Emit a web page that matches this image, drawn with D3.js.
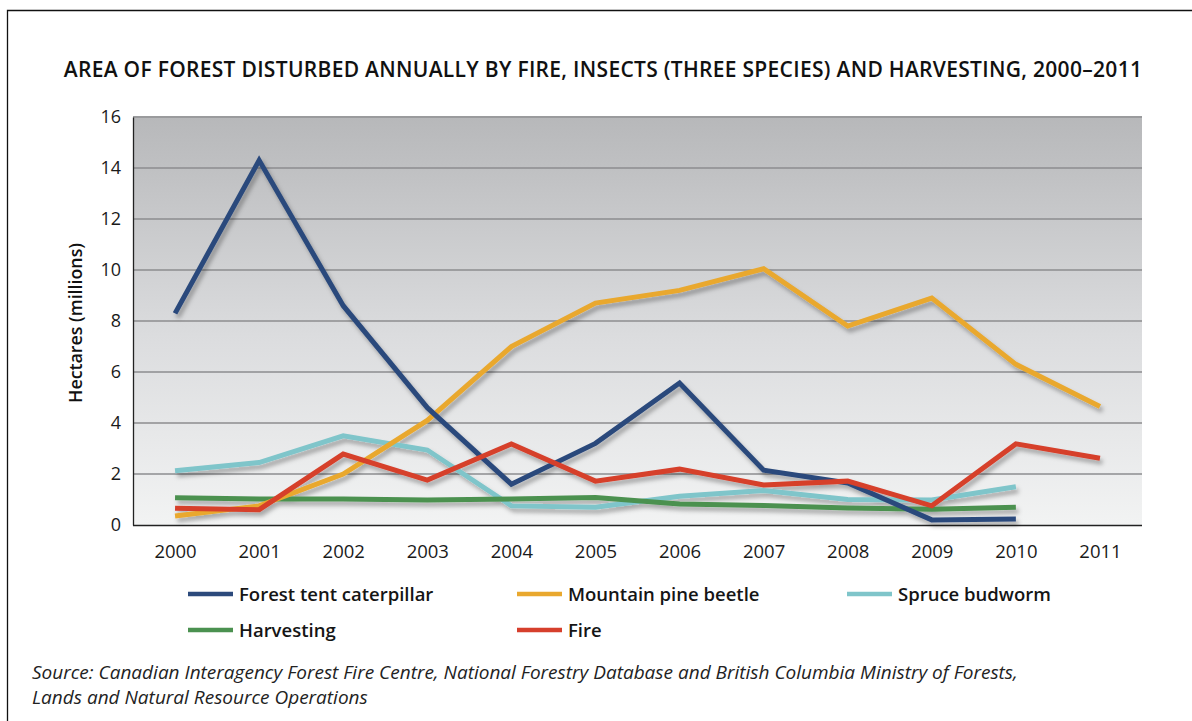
<!DOCTYPE html>
<html>
<head>
<meta charset="utf-8">
<script src="https://cdn.jsdelivr.net/npm/d3@7"></script>
<style>
  html, body { margin: 0; padding: 0; background: #fff; }
  svg { display: block; font-family: "Open Sans", "Noto Sans", sans-serif; }
</style>
</head>
<body>
<svg id="chart" width="1192" height="721"></svg>
<script>
// Years on the horizontal axis
const years = ["2000","2001","2002","2003","2004","2005","2006","2007","2008","2009","2010","2011"];
const yTicks = [0, 2, 4, 6, 8, 10, 12, 14, 16];

// Hectares disturbed (millions) per year; null where no value is reported
const forestTentCaterpillar = [8.3, 14.3, 8.6, 4.6, 1.6, 3.2, 5.57, 2.15, 1.65, 0.2, 0.24, null];
const mountainPineBeetle    = [0.35, 0.75, 2.0, 4.1, 7.0, 8.7, 9.2, 10.05, 7.8, 8.9, 6.3, 4.65];
const spruceBudworm         = [2.13, 2.45, 3.5, 2.94, 0.75, 0.7, 1.13, 1.35, 1.0, 0.98, 1.5, null];
const harvesting            = [1.07, 1.02, 1.02, 0.98, 1.02, 1.08, 0.82, 0.76, 0.67, 0.62, 0.7, null];
const fire                  = [0.66, 0.6, 2.78, 1.76, 3.18, 1.72, 2.19, 1.57, 1.72, 0.75, 3.18, 2.62];

const seriesNames  = ["Forest tent caterpillar", "Mountain pine beetle", "Spruce budworm", "Harvesting", "Fire"];
const seriesValues = [forestTentCaterpillar, mountainPineBeetle, spruceBudworm, harvesting, fire];
const seriesColors = ["#2c4a7c", "#e9a82e", "#7fc5ca", "#4b9150", "#d63f2c"];
// drawing order, back to front
const drawOrder = [2, 3, 1, 0, 4];

const svg = d3.select("#chart");
const plot = { left: 133, right: 1142, top: 117, bottom: 525 };

const x = d3.scalePoint().domain(years).range([plot.left, plot.right]).padding(0.5);
const y = d3.scaleLinear().domain([0, 16]).range([plot.bottom, plot.top]);

const defs = svg.append("defs");
const grad = defs.append("linearGradient")
  .attr("id", "plotBg").attr("x1", 0).attr("y1", 0).attr("x2", 0).attr("y2", 1);
grad.append("stop").attr("offset", "0%").attr("stop-color", "#b7b8ba");
grad.append("stop").attr("offset", "55%").attr("stop-color", "#dcdddf");
grad.append("stop").attr("offset", "100%").attr("stop-color", "#f2f3f3");

const shadow = defs.append("filter").attr("id", "lineShadow")
  .attr("x", "-10%").attr("y", "-10%").attr("width", "120%").attr("height", "130%");
shadow.append("feDropShadow")
  .attr("dx", 2.5).attr("dy", 4).attr("stdDeviation", 2.2)
  .attr("flood-color", "#000").attr("flood-opacity", 0.3);

// outer frame
svg.append("path")
  .attr("d", "M7.5,721 V10.5 H1192")
  .attr("fill", "none").attr("stroke", "#111").attr("stroke-width", 1.3);

// title
svg.append("text")
  .attr("x", 603).attr("y", 77)
  .attr("text-anchor", "middle")
  .attr("font-size", 21).attr("font-weight", 600).attr("letter-spacing", 0.3).attr("fill", "#111")
  .text("AREA OF FOREST DISTURBED ANNUALLY BY FIRE, INSECTS (THREE SPECIES) AND HARVESTING, 2000–2011");

// plot background
svg.append("rect")
  .attr("x", plot.left).attr("y", plot.top)
  .attr("width", plot.right - plot.left).attr("height", plot.bottom - plot.top)
  .attr("fill", "url(#plotBg)");

// horizontal grid lines
svg.append("g").selectAll("line")
  .data(yTicks.filter(d => d > 0 && d < 16))
  .join("line")
  .attr("x1", plot.left).attr("x2", plot.right)
  .attr("y1", d => y(d)).attr("y2", d => y(d))
  .attr("stroke", "#8c8d8f").attr("stroke-width", 1.5);

// top edge of plot
svg.append("line")
  .attr("x1", plot.left).attr("x2", plot.right)
  .attr("y1", y(16)).attr("y2", y(16))
  .attr("stroke", "#9a9b9d").attr("stroke-width", 2);

// y axis
const yAxis = svg.append("g")
  .attr("transform", `translate(${plot.left},0)`)
  .call(d3.axisLeft(y).tickValues(yTicks).tickSize(0).tickPadding(12));
yAxis.select(".domain").attr("stroke", "#222").attr("stroke-width", 1.3);
yAxis.selectAll("text")
  .attr("font-family", "'Open Sans', sans-serif")
  .attr("font-size", 18).attr("fill", "#1a1a1a");

// x axis
const xAxis = svg.append("g")
  .attr("transform", `translate(0,${plot.bottom})`)
  .call(d3.axisBottom(x).tickSize(0).tickPadding(20));
xAxis.select(".domain").attr("d", `M${plot.left},0.5H${plot.right}`)
  .attr("stroke", "#222").attr("stroke-width", 1.5);
xAxis.selectAll("text")
  .attr("font-family", "'Open Sans', sans-serif")
  .attr("font-size", 18.5).attr("fill", "#1a1a1a");

// y axis title
svg.append("text")
  .attr("transform", `translate(82,${(plot.top + plot.bottom) / 2 + 2}) rotate(-90)`)
  .attr("text-anchor", "middle")
  .attr("font-size", 17.8).attr("font-weight", 600).attr("fill", "#111")
  .text("Hectares (millions)");

// series lines
const line = d3.line()
  .defined(d => d.v !== null)
  .x(d => x(d.year))
  .y(d => y(d.v));

const linesG = svg.append("g").attr("filter", "url(#lineShadow)");
drawOrder.forEach(i => {
  const pts = years.map((yr, k) => ({ year: yr, v: seriesValues[i][k] }));
  linesG.append("path")
    .datum(pts)
    .attr("d", line)
    .attr("fill", "none")
    .attr("stroke", seriesColors[i])
    .attr("stroke-width", 5)
    .attr("stroke-linejoin", "miter")
    .attr("stroke-linecap", "butt");
});

// legend
const legendPos = [
  { x: 188, y: 594 }, { x: 517, y: 594 }, { x: 847, y: 594 },
  { x: 188, y: 630 }, { x: 517, y: 630 }
];
const legend = svg.append("g");
seriesNames.forEach((name, i) => {
  const p = legendPos[i];
  legend.append("line")
    .attr("x1", p.x).attr("x2", p.x + 45)
    .attr("y1", p.y).attr("y2", p.y)
    .attr("stroke", seriesColors[i]).attr("stroke-width", 4.5);
  legend.append("text")
    .attr("x", p.x + 51).attr("y", p.y + 7)
    .attr("font-size", 18.5).attr("font-weight", 600).attr("fill", "#151515")
    .text(name);
});

// source note
const src = svg.append("text")
  .attr("font-size", 19).attr("font-style", "italic").attr("fill", "#222");
src.append("tspan").attr("x", 32).attr("y", 679)
  .text("Source: Canadian Interagency Forest Fire Centre, National Forestry Database and British Columbia Ministry of Forests,");
src.append("tspan").attr("x", 32).attr("y", 704)
  .text("Lands and Natural Resource Operations");
</script>
</body>
</html>
